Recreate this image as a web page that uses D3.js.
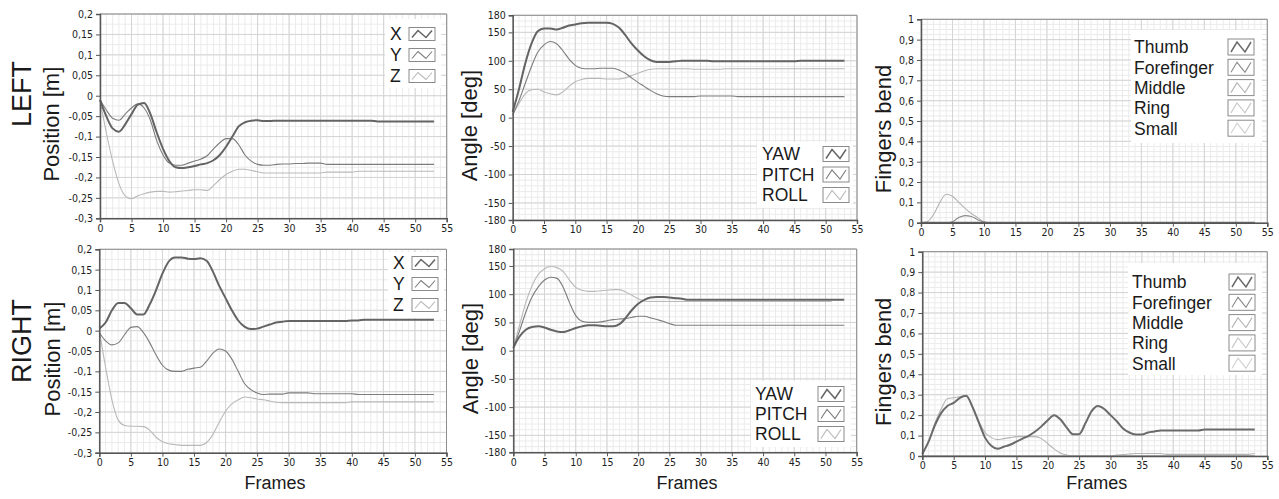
<!DOCTYPE html>
<html>
<head>
<meta charset="utf-8">
<script src="https://cdn.jsdelivr.net/npm/d3@7"></script>
<style>
  body { margin: 0; background: #fff; }
  text { font-family: "Liberation Sans", Arial, sans-serif; fill: #1a1a1a; }
  .tick text { font-family: "DejaVu Sans Condensed", "DejaVu Sans", sans-serif; font-size: 10.5px; fill: #1e1e1e; }
</style>
</head>
<body>
<svg id="chart" width="1279" height="499"></svg>
<script>
// frame index (x axis) and tick labels
const frames = d3.range(54);
const xTicks = [0, 5, 10, 15, 20, 25, 30, 35, 40, 45, 50, 55];
const posTicks = [0.2, 0.15, 0.1, 0.05, 0, -0.05, -0.1, -0.15, -0.2, -0.25, -0.3];
const angleTicks = [180, 150, 100, 50, 0, -50, -100, -150, -180];
const bendTicks = [0, 0.1, 0.2, 0.3, 0.4, 0.5, 0.6, 0.7, 0.8, 0.9, 1];

const posNames = ["X", "Y", "Z"];
const angleNames = ["YAW", "PITCH", "ROLL"];
const fingerNames = ["Thumb", "Forefinger", "Middle", "Ring", "Small"];

// LEFT hand, position [m]
const leftX = [-0.01,-0.05,-0.08,-0.088,-0.07,-0.045,-0.022,-0.018,-0.045,-0.09,-0.13,-0.16,-0.175,-0.177,-0.175,-0.172,-0.168,-0.165,-0.158,-0.145,-0.125,-0.1,-0.075,-0.065,-0.061,-0.06,-0.062,-0.062,
  -0.061,-0.061,-0.061,-0.061,-0.061,-0.061,-0.061,-0.061,-0.061,-0.061,-0.061,-0.061,-0.061,-0.061,-0.061,-0.061,
  -0.063,-0.063,-0.063,-0.063,-0.063,-0.063,-0.063,-0.063,-0.063,-0.063];
const leftY = [-0.01,-0.035,-0.055,-0.06,-0.045,-0.03,-0.02,-0.03,-0.06,-0.11,-0.145,-0.165,-0.17,-0.17,-0.165,-0.16,-0.155,-0.147,-0.13,-0.115,-0.105,-0.105,-0.12,-0.145,-0.16,-0.168,-0.17,-0.17,-0.168,-0.167,-0.167,-0.166,-0.166,-0.165,-0.165,-0.165,
  -0.168,-0.168,-0.168,-0.168,-0.168,-0.168,-0.168,-0.168,-0.168,-0.168,-0.168,-0.168,-0.168,-0.168,-0.168,-0.168,-0.168,-0.168];
const leftZ = [-0.01,-0.09,-0.16,-0.215,-0.245,-0.252,-0.245,-0.24,-0.236,-0.234,-0.234,-0.236,-0.235,-0.233,-0.232,-0.23,-0.23,-0.232,-0.22,-0.205,-0.193,-0.185,-0.18,-0.18,-0.183,-0.186,
  -0.189,-0.189,-0.189,-0.189,-0.189,-0.189,-0.189,-0.189,-0.189,-0.189,
  -0.187,-0.187,-0.187,-0.187,-0.187,
  -0.185,-0.185,-0.185,-0.185,-0.185,-0.185,-0.185,-0.185,-0.185,-0.185,-0.185,-0.185,-0.185];

// LEFT hand, angle [deg]
const leftYaw = [10,50,95,130,152,157,157,155,158,162,164,166,167,167,167,167,165,158,145,130,118,108,101,98,98,98,99,
  100,100,100,100,100,
  99,99,99,99,99,99,99,99,99,99,99,99,99,99,
  100,100,100,100,100,100,100,100];
const leftPitch = [5,30,60,90,115,128,134,130,118,103,92,87,86,86,87,87,87,84,78,70,62,55,48,42,38,37,
  37,37,37,37,38,38,38,38,38,38,
  37,37,37,37,37,37,37,37,37,37,37,37,37,37,37,37,37,37];
const leftRoll = [5,25,42,49,50,45,42,40,45,55,63,67,69,69,69,68,68,68,70,74,78,82,85,86,
  86,86,86,86,86,85,85,85,85,85,
  86,86,86,86,86,86,86,86,86,86,86,86,86,86,86,86,86,86,86,86];

// LEFT hand, fingers bend
const leftThumb = [0,0,0,0,0,0,0,0,0,0,0,0,0,0,0,0,0,0,0,0,0,0,0,0,0,0,0,0,0,0,0,0,0,0,0,0,0,0,0,0,0,0,0,0,0,0,0,0,0,0,0,0,0,0];
const leftFore = [0,0,0,0,0,0.005,0.025,0.035,0.03,0.015,0.003,0,0,0,0,0,0,0,0,0,0,0,0,0,0,0,0,0,0,0,0,0,0,0,0,0,0,0,0,0,0,0,0,0,0,0,0,0,0,0,0,0,0,0];
const leftMiddle = [0,0.005,0.04,0.1,0.14,0.13,0.1,0.07,0.045,0.025,0.005,0,0,0,0,0,0,0,0,0,0,0,0,0,0,0,0,0,0,0,0,0,0,0,0,0,0,0,0,0,0,0,0,0,0,0,0,0,0,0,0,0,0,0];
const leftRing = [0,0,0,0,0,0,0,0,0,0,0,0,0,0,0,0,0,0,0,0,0,0,0,0,0,0,0,0,0,0,0,0,0,0,0,0,0,0,0,0,0,0,0,0,0,0,0,0,0,0,0,0,0,0];
const leftSmall = [0,0,0,0,0,0,0,0,0,0,0,0,0,0,0,0,0,0,0,0,0,0,0,0,0,0,0,0,0,0,0,0,0,0,0,0,0,0,0,0,0,0,0,0,0,0,0,0,0,0,0,0,0,0];

// RIGHT hand, position [m]
const rightX = [0.005,0.02,0.05,0.068,0.068,0.055,0.04,0.04,0.065,0.1,0.14,0.17,0.18,0.18,0.177,0.176,0.178,0.172,0.145,0.11,0.08,0.05,0.025,0.01,0.004,0.005,0.01,0.015,0.02,0.022,0.024,
  0.024,0.024,0.024,0.024,0.024,0.024,0.024,0.024,0.024,
  0.025,0.025,
  0.027,0.027,0.027,0.027,0.027,0.027,0.027,0.027,0.027,0.027,0.027,0.027];
const rightY = [-0.005,-0.025,-0.035,-0.03,-0.01,0.008,0.01,-0.005,-0.03,-0.06,-0.085,-0.097,-0.1,-0.1,-0.095,-0.092,-0.09,-0.075,-0.055,-0.045,-0.05,-0.07,-0.1,-0.13,-0.145,-0.153,-0.157,
  -0.156,-0.156,-0.156,
  -0.153,-0.153,-0.153,-0.153,
  -0.155,-0.155,-0.155,-0.155,-0.155,-0.155,-0.155,
  -0.157,-0.157,-0.157,-0.157,-0.157,-0.157,-0.157,-0.157,-0.157,-0.157,-0.157,-0.157,-0.157];
const rightZ = [0,-0.09,-0.17,-0.22,-0.233,-0.235,-0.235,-0.236,-0.245,-0.262,-0.273,-0.278,-0.28,-0.282,-0.282,-0.282,-0.282,-0.275,-0.255,-0.225,-0.198,-0.18,-0.17,-0.163,-0.165,-0.168,-0.17,-0.173,-0.176,-0.177,
  -0.177,-0.177,-0.177,-0.177,-0.177,-0.177,-0.177,-0.177,-0.177,-0.177,
  -0.175,-0.175,-0.175,-0.175,-0.175,-0.175,-0.175,-0.175,-0.175,-0.175,-0.175,-0.175,-0.175,-0.175];

// RIGHT hand, angle [deg]
const rightYaw = [5,25,37,42,43,41,37,34,33,36,40,43,45,45,44,43,43,47,58,72,83,90,94,95,95,94,93,92,90,
  90,90,90,90,90,90,90,90,90,90,90,90,90,90,90,90,90,90,90,90,90,90,90,90,90];
const rightPitch = [5,35,68,95,113,125,130,128,112,85,62,52,50,50,51,53,55,56,57,59,61,61,58,55,52,48,45,
  45,45,45,45,45,45,45,45,45,45,45,45,45,45,45,45,45,45,45,45,45,45,45,45,45,45,45];
const rightRoll = [5,45,85,115,135,145,149,147,140,125,112,107,105,105,106,107,108,108,104,98,92,88,87,
  87,87,87,87,87,87,87,87,87,87,87,87,87,87,87,87,87,87,87,87,87,87,87,87,87,87,87,87,87];

// RIGHT hand, fingers bend
const rightThumb = [0.01,0.07,0.15,0.21,0.245,0.26,0.285,0.295,0.24,0.165,0.09,0.05,0.035,0.045,0.055,0.07,0.085,0.1,0.12,0.145,0.175,0.2,0.18,0.14,0.107,0.107,0.16,0.22,0.245,0.23,0.2,0.17,0.135,0.115,0.105,0.105,0.115,0.12,0.125,
  0.125,0.125,0.125,0.125,0.125,0.125,
  0.13,0.13,0.13,0.13,0.13,0.13,0.13,0.13,0.13];
const rightFore = [0,0,0,0,0,0,0,0,0,0,0,0,0,0,0,0,0,0,0,0,0,0,0,0,0,0,0,0,0,0,0,0,0,0,0,0,0,0,0,0,0,0,0,0,0,0,0,0,0,0,0,0,0,0];
const rightMiddle = [0.01,0.07,0.16,0.23,0.28,0.285,0.29,0.295,0.24,0.17,0.115,0.09,0.08,0.085,0.09,0.095,0.095,0.095,0.095,0.085,0.06,0.035,0.015,0.005,0,
  0,0,0,0,0,0,
  0.005,0.007,0.01,
  0.012,0.012,0.012,0.012,0.012,
  0.008,0.008,0.008,0.008,0.008,0.008,0.008,0.008,0.008,0.008,0.008,0.008,0.008,0.008,
  0.012];
const rightRing = [0,0,0,0,0,0,0,0,0,0,0,0,0,0,0,0,0,0,0,0,0,0,0,0,0,0,0,0,0,0,0,0,0,0,0,0,0,0,0,0,0,0,0,0,0,0,0,0,0,0,0,0,0,0];
const rightSmall = [0,0,0,0,0,0,0,0,0,0,0,0,0,0,0,0,0,0,0,0,0,0,0,0,0,0,0,0,0,0,0,0,0,0,0,0,0,0,0,0,0,0,0,0,0,0,0,0,0,0,0,0,0,0];

// line styles, darkest first
const styles3 = [
  { color: "#646464", width: 2 },
  { color: "#7c7c7c", width: 1.1 },
  { color: "#b9b9b9", width: 1.1 }
];
const styles5 = [
  { color: "#6a6a6a", width: 2 },
  { color: "#8a8a8a", width: 1.1 },
  { color: "#b4b4b4", width: 1.1 },
  { color: "#c6c6c6", width: 1.1 },
  { color: "#cfcfcf", width: 1.1 }
];

const comma = (d) => String(d).replace(".", ",");

const panels = [
  { x0: 100, x1: 446.7, y0: 14, y1: 218.3, domain: [-0.3, 0.2], ticks: posTicks, minor: 0.025,
    names: posNames, values: [leftX, leftY, leftZ], styles: styles3, ylabel: "Position [m]", ylabelX: 51,
    legend: { bx: 385, by: 19, bw: 56, bh: 69, tx: 390, first: 34, step: 21, sx: 409, sw: 26, sh: 13, fs: 17.5 } },
  { x0: 512.7, x1: 857, y0: 15.3, y1: 220, domain: [-180, 180], ticks: angleTicks, minor: 10,
    names: angleNames, values: [leftYaw, leftPitch, leftRoll], styles: styles3, ylabel: "Angle [deg]", ylabelX: 469,
    legend: { bx: 757, by: 142, bw: 96, bh: 66, tx: 762, first: 154, step: 20.5, sx: 823, sw: 26, sh: 15, fs: 17.5 } },
  { x0: 921, x1: 1267.3, y0: 19.3, y1: 222.7, domain: [0, 1], ticks: bendTicks, minor: 0.025,
    names: fingerNames, values: [leftThumb, leftFore, leftMiddle, leftRing, leftSmall], styles: styles5, ylabel: "Fingers bend", ylabelX: 883,
    legend: { bx: 1131, by: 30, bw: 131, bh: 113, tx: 1134, first: 47, step: 20.3, sx: 1228, sw: 26, sh: 16, fs: 17.5 } },
  { x0: 99.3, x1: 446.5, y0: 249.3, y1: 452.7, domain: [-0.3, 0.2], ticks: posTicks, minor: 0.025,
    names: posNames, values: [rightX, rightY, rightZ], styles: styles3, ylabel: "Position [m]", ylabelX: 52,
    legend: { bx: 388, by: 252, bw: 56, bh: 66, tx: 393, first: 263, step: 21, sx: 412, sw: 26, sh: 13, fs: 17.5 } },
  { x0: 513.3, x1: 856.7, y0: 249, y1: 452.3, domain: [-180, 180], ticks: angleTicks, minor: 10,
    names: angleNames, values: [rightYaw, rightPitch, rightRoll], styles: styles3, ylabel: "Angle [deg]", ylabelX: 470,
    legend: { bx: 751, by: 381, bw: 100, bh: 66, tx: 755, first: 394, step: 20, sx: 818, sw: 26, sh: 15, fs: 17.5 } },
  { x0: 922.3, x1: 1267.3, y0: 251.7, y1: 456, domain: [0, 1], ticks: bendTicks, minor: 0.025,
    names: fingerNames, values: [rightThumb, rightFore, rightMiddle, rightRing, rightSmall], styles: styles5, ylabel: "Fingers bend", ylabelX: 883,
    legend: { bx: 1128, by: 263, bw: 134, bh: 112, tx: 1132, first: 282, step: 20.3, sx: 1229, sw: 26, sh: 16, fs: 17.5 } }
];

const svg = d3.select("#chart");

panels.forEach((p, i) => {
  const g = svg.append("g");
  const x = d3.scaleLinear().domain([0, 55]).range([p.x0, p.x1]);
  const y = d3.scaleLinear().domain(p.domain).range([p.y1, p.y0]);

  // minor grid
  const minorY = d3.range(p.domain[0], p.domain[1] + p.minor / 2, p.minor);
  g.selectAll(".gx-minor").data(d3.range(0, 56)).join("line")
    .attr("x1", (d) => x(d)).attr("x2", (d) => x(d))
    .attr("y1", p.y0).attr("y2", p.y1)
    .attr("stroke", "#ebebeb").attr("stroke-width", 1);
  g.selectAll(".gy-minor").data(minorY).join("line")
    .attr("x1", p.x0).attr("x2", p.x1)
    .attr("y1", (d) => y(d)).attr("y2", (d) => y(d))
    .attr("stroke", "#ebebeb").attr("stroke-width", 1);

  // major grid
  g.append("g").selectAll("line").data(xTicks).join("line")
    .attr("x1", (d) => x(d)).attr("x2", (d) => x(d))
    .attr("y1", p.y0).attr("y2", p.y1)
    .attr("stroke", "#d4d4d4").attr("stroke-width", 1);
  g.append("g").selectAll("line").data(p.ticks).join("line")
    .attr("x1", p.x0).attr("x2", p.x1)
    .attr("y1", (d) => y(d)).attr("y2", (d) => y(d))
    .attr("stroke", "#d4d4d4").attr("stroke-width", 1);

  // frame on top and right
  g.append("path")
    .attr("d", `M${p.x0},${p.y0}H${p.x1}V${p.y1}`)
    .attr("fill", "none").attr("stroke", "#8c8c8c").attr("stroke-width", 1);

  // legend box (drawn under the lines, like the original)
  const L = p.legend;
  g.append("rect")
    .attr("x", L.bx).attr("y", L.by).attr("width", L.bw).attr("height", L.bh)
    .attr("fill", "#fff");

  // series
  const line = d3.line()
    .x((d, k) => x(frames[k]))
    .y((d) => y(d))
    .curve(d3.curveMonotoneX);
  const order = d3.range(p.values.length).reverse();
  g.selectAll(".series").data(order).join("path")
    .attr("d", (k) => line(p.values[k]))
    .attr("fill", "none")
    .attr("stroke", (k) => p.styles[k].color)
    .attr("stroke-width", (k) => p.styles[k].width)
    .attr("stroke-linejoin", "round");

  // axes
  const yAxis = d3.axisLeft(y).tickValues(p.ticks).tickFormat(comma).tickSize(4).tickPadding(3);
  const xAxis = d3.axisBottom(x).tickValues(xTicks).tickSize(4).tickPadding(2);
  const ya = g.append("g").attr("transform", `translate(${p.x0},0)`).call(yAxis);
  const xa = g.append("g").attr("transform", `translate(0,${p.y1})`).call(xAxis);
  [ya, xa].forEach((a) => {
    a.select(".domain").attr("stroke", "#555").attr("stroke-width", 1.5);
    a.selectAll(".tick line").attr("stroke", "#555");
  });

  // legend entries
  const items = g.selectAll(".leg").data(p.names).join("g")
    .attr("transform", (d, k) => `translate(0,${L.first + k * L.step})`);
  items.append("text")
    .attr("x", L.tx).attr("dy", "0.36em")
    .attr("font-size", L.fs)
    .text((d) => d);
  items.append("rect")
    .attr("x", L.sx).attr("y", -L.sh / 2).attr("width", L.sw).attr("height", L.sh)
    .attr("fill", "#fff").attr("stroke", "#8a8a8a").attr("stroke-width", 1);
  items.append("polyline")
    .attr("points", (d) => {
      const sx = L.sx, h = L.sh / 2;
      return [[sx + 3, h - 3], [sx + 9, 3 - h], [sx + 17, h - 3], [sx + L.sw - 3, 3 - h]].join(" ");
    })
    .attr("fill", "none")
    .attr("stroke", (d, k) => p.styles[k].color)
    .attr("stroke-width", (d, k) => Math.min(p.styles[k].width, 1.5));

  // y axis title
  g.append("text")
    .attr("transform", `translate(${p.ylabelX},${(p.y0 + p.y1) / 2 + 8}) rotate(-90)`)
    .attr("text-anchor", "middle").attr("dy", "0.35em")
    .attr("font-size", 22)
    .text(p.ylabel);

  // x axis title on the bottom row
  if (i >= 3) {
    g.append("text")
      .attr("x", (p.x0 + p.x1) / 2 + 2).attr("y", 489)
      .attr("text-anchor", "middle")
      .attr("font-size", 18)
      .text("Frames");
  }
});

// row labels
[["LEFT", 94], ["RIGHT", 341]].forEach(([t, cy]) => {
  svg.append("text")
    .attr("transform", `translate(21,${cy}) rotate(-90)`)
    .attr("text-anchor", "middle").attr("dy", "0.36em")
    .attr("font-size", 27)
    .text(t);
});
</script>
</body>
</html>
